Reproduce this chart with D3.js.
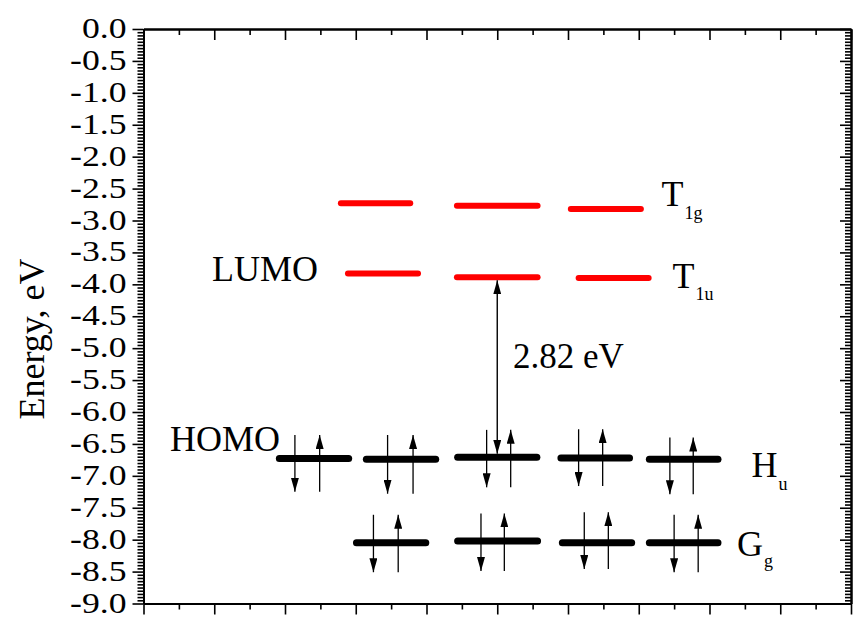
<!DOCTYPE html>
<html>
<head>
<meta charset="utf-8">
<script src="https://cdn.jsdelivr.net/npm/d3@7"></script>
<style>
  html, body { margin: 0; padding: 0; background: #fff; }
  svg { display: block; }
</style>
</head>
<body>
<svg id="chart" width="863" height="618"></svg>
<script>
// Energy axis tick labels (eV)
const energyTicks = [0.0, -0.5, -1.0, -1.5, -2.0, -2.5, -3.0, -3.5, -4.0, -4.5,
                     -5.0, -5.5, -6.0, -6.5, -7.0, -7.5, -8.0, -8.5, -9.0];

// Orbital levels: horizontal extent on the arbitrary x axis and energy (eV)
const t1gStart  = [2.79, 4.43, 6.04];
const t1gEnd    = [3.77, 5.57, 7.03];
const t1gEnergy = [-2.73, -2.77, -2.82];

const t1uStart  = [2.89, 4.43, 6.15];
const t1uEnd    = [3.88, 5.57, 7.14];
const t1uEnergy = [-3.83, -3.89, -3.90];

const huStart   = [1.92, 3.15, 4.44, 5.90, 7.15];
const huEnd     = [2.90, 4.13, 5.56, 6.87, 8.12];
const huEnergy  = [-6.73, -6.74, -6.71, -6.72, -6.74];

const ggStart   = [3.01, 4.44, 5.92, 7.15];
const ggEnd     = [3.99, 5.57, 6.90, 8.12];
const ggEnergy  = [-8.05, -8.02, -8.05, -8.05];

// Paired electrons on occupied levels: spin-down / spin-up x and arrow span (eV)
const huSpinDownX = [2.14, 3.45, 4.85, 6.15, 7.44];
const huSpinUpX   = [2.49, 3.81, 5.19, 6.49, 7.77];
const huSpinTop   = [-6.36, -6.36, -6.28, -6.27, -6.40];
const huSpinBot   = [-7.25, -7.28, -7.18, -7.16, -7.29];

const ggSpinDownX = [3.25, 4.77, 6.23, 7.50];
const ggSpinUpX   = [3.60, 5.10, 6.57, 7.84];
const ggSpinTop   = [-7.61, -7.59, -7.57, -7.61];
const ggSpinBot   = [-8.51, -8.49, -8.46, -8.51];

// HOMO-LUMO gap
const gapX = 5.0;
const gapLumo = -3.89;
const gapValue = 2.82;

const SERIF = "'Liberation Serif', 'Times New Roman', Tinos, serif";

const svg = d3.select("#chart");
const x = d3.scaleLinear().domain([0, 10]).range([143.5, 851]);
const y = d3.scaleLinear().domain([-9, 0]).range([603.5, 29]);

// arrowhead marker
svg.append("defs").append("marker")
  .attr("id", "head")
  .attr("viewBox", "0 0 14 8")
  .attr("refX", 14).attr("refY", 4)
  .attr("markerUnits", "userSpaceOnUse")
  .attr("markerWidth", 14).attr("markerHeight", 8)
  .attr("orient", "auto-start-reverse")
  .append("path").attr("d", "M0,0 L14,4 L0,8 Z").attr("fill", "#000");

// ---- axes ----
const xMajor = d3.range(0, 10.001, 1);
const xMinor = d3.range(0.5, 10, 1);
const yMinor = d3.range(0, 181).map(i => -i * 0.05).filter((v, i) => i % 10 !== 0);

function styleAxis(g) {
  g.selectAll("path.domain").attr("stroke", "#000").attr("stroke-width", 2);
  g.selectAll(".tick line").attr("stroke", "#000").attr("stroke-width", 1.6);
}

// bottom (outward ticks)
svg.append("g").attr("transform", `translate(0,${y(-9)})`)
  .call(d3.axisBottom(x).tickValues(xMinor).tickSize(6).tickSizeOuter(0).tickFormat(""))
  .call(styleAxis);
svg.append("g").attr("transform", `translate(0,${y(-9)})`)
  .call(d3.axisBottom(x).tickValues(xMajor).tickSize(11).tickSizeOuter(0).tickFormat(""))
  .call(styleAxis);
// top (inward ticks)
svg.append("g").attr("transform", `translate(0,${y(0)})`)
  .call(d3.axisBottom(x).tickValues(xMinor).tickSize(6).tickSizeOuter(0).tickFormat(""))
  .call(styleAxis);
svg.append("g").attr("transform", `translate(0,${y(0)})`)
  .call(d3.axisBottom(x).tickValues(xMajor).tickSize(11).tickSizeOuter(0).tickFormat(""))
  .call(styleAxis);
// left (outward ticks, labelled)
svg.append("g").attr("transform", `translate(${x(0)},0)`)
  .call(d3.axisLeft(y).tickValues(yMinor).tickSize(6).tickSizeOuter(0).tickFormat(""))
  .call(styleAxis);
const yAxis = svg.append("g").attr("transform", `translate(${x(0)},0)`)
  .call(d3.axisLeft(y).tickValues(energyTicks).tickSize(11).tickSizeOuter(0)
        .tickFormat(v => v.toFixed(1)))
  .call(styleAxis);
yAxis.attr("font-family", null).attr("font-size", null);
yAxis.selectAll(".tick text")
  .attr("x", null).attr("dy", null)
  .attr("transform", "translate(-17,8.5) scale(1.17,1)")
  .attr("fill", "#000")
  .style("font-size", "30.5px");
// right (inward ticks)
svg.append("g").attr("transform", `translate(${x(10)},0)`)
  .call(d3.axisLeft(y).tickValues(yMinor).tickSize(6).tickSizeOuter(0).tickFormat(""))
  .call(styleAxis);
svg.append("g").attr("transform", `translate(${x(10)},0)`)
  .call(d3.axisLeft(y).tickValues(energyTicks).tickSize(11).tickSizeOuter(0).tickFormat(""))
  .call(styleAxis);

svg.append("text")
  .attr("transform", `translate(44,339) rotate(-90)`)
  .attr("text-anchor", "middle")
  .style("font-size", "36px")
  .text("Energy, eV");

// ---- levels ----
function levels(starts, ends, energies, color, width) {
  svg.append("g").selectAll("line").data(energies).join("line")
    .attr("x1", (d, i) => x(starts[i])).attr("x2", (d, i) => x(ends[i]))
    .attr("y1", d => y(d)).attr("y2", d => y(d))
    .attr("stroke", color).attr("stroke-width", width).attr("stroke-linecap", "round");
}
levels(t1gStart, t1gEnd, t1gEnergy, "#ff0000", 6);
levels(t1uStart, t1uEnd, t1uEnergy, "#ff0000", 6);
levels(huStart, huEnd, huEnergy, "#000", 7);
levels(ggStart, ggEnd, ggEnergy, "#000", 7);

// ---- electron spins ----
function spins(downX, upX, tops, bots) {
  const g = svg.append("g").attr("stroke", "#000").attr("stroke-width", 1.3);
  g.selectAll("line.dn").data(downX).join("line").attr("class", "dn")
    .attr("x1", d => x(d)).attr("x2", d => x(d))
    .attr("y1", (d, i) => y(tops[i])).attr("y2", (d, i) => y(bots[i]))
    .attr("marker-end", "url(#head)");
  g.selectAll("line.up").data(upX).join("line").attr("class", "up")
    .attr("x1", d => x(d)).attr("x2", d => x(d))
    .attr("y1", (d, i) => y(bots[i])).attr("y2", (d, i) => y(tops[i]))
    .attr("marker-end", "url(#head)");
}
spins(huSpinDownX, huSpinUpX, huSpinTop, huSpinBot);
spins(ggSpinDownX, ggSpinUpX, ggSpinTop, ggSpinBot);

// ---- gap arrow ----
svg.append("line")
  .attr("x1", x(gapX)).attr("x2", x(gapX))
  .attr("y1", y(gapLumo) + 3).attr("y2", y(gapLumo - gapValue) - 3.5)
  .attr("stroke", "#000").attr("stroke-width", 1.4)
  .attr("marker-start", "url(#head)").attr("marker-end", "url(#head)");

svg.append("text").attr("x", 513).attr("y", 368).style("font-size", "35px")
  .text(gapValue.toFixed(2) + " eV");

// ---- labels ----
svg.append("text").attr("x", 212).attr("y", 281).style("font-size", "36px").text("LUMO");
svg.append("text").attr("x", 170).attr("y", 451).style("font-size", "36px").text("HOMO");

function subLabel(px, py, main, sub, dy) {
  const t = svg.append("text").attr("x", px).attr("y", py).style("font-size", "36px");
  t.append("tspan").text(main);
  t.append("tspan").style("font-size", "18px").attr("dx", 1).attr("dy", dy).text(sub);
}
subLabel(661.5, 206, "T", "1g", 13);
subLabel(672.5, 288, "T", "1u", 12);
subLabel(751.5, 476.5, "H", "u", 13);
subLabel(737, 556, "G", "g", 11);

// serif type throughout
svg.selectAll("text").style("font-family", SERIF).style("fill", "#000");
</script>
</body>
</html>
